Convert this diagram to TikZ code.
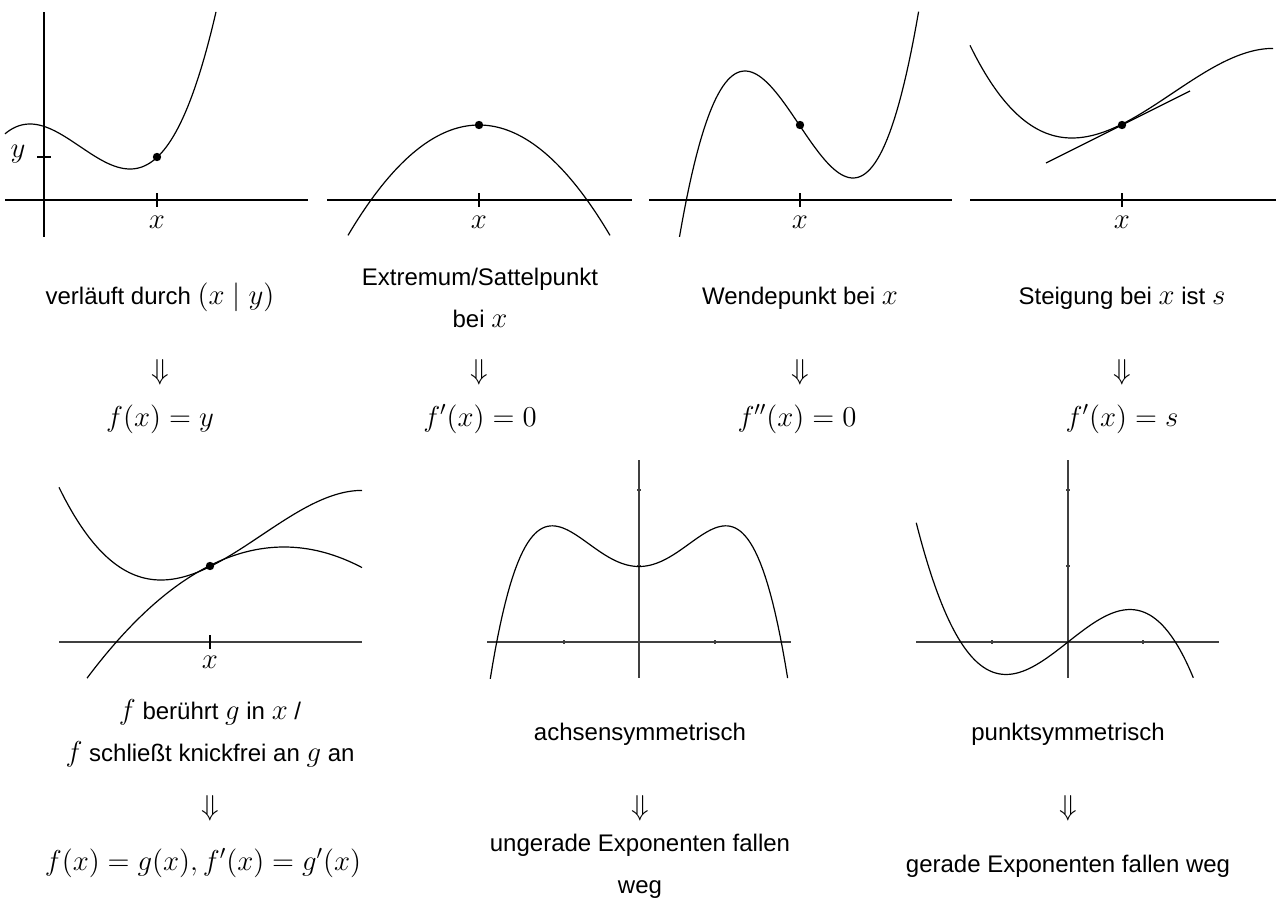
\documentclass[tikz,border=0pt]{standalone}
\usepackage[no-math]{fontspec}
\setmainfont{Liberation Sans}[Scale=0.857]
\begin{document}
\begin{tikzpicture}[x=0.5pt,y=-0.5pt,line width=0.6pt,
  declare function={
    pa(\t)=169-270*(\t*\t*\t/3+\t*\t/2);
    pc(\t)=124.5-26.75*(\t*\t*\t-3*\t);
    pd(\t)=66.2*(\t*\t*\t/3-1.005*\t*\t);
    fe(\x)=1+0.816*\x*\x-0.309*\x*\x*\x*\x;
    fo(\x)=0.786*\x-0.389*\x*\x*\x;
  },
  curve/.style={line width=0.6pt,line join=round},
  axis/.style={line width=0.6pt},
  gaxis/.style={line width=0.8pt,draw=black!75},
  lbl/.style={font=\fontsize{14}{21}\selectfont,align=center,inner sep=0pt,anchor=base},
  mlbl/.style={font=\fontsize{14}{21}\selectfont,inner sep=0pt},
  dotmark/.style={circle,fill=black,inner sep=0pt,minimum size=4.2pt},
]
\useasboundingbox (0,0) rectangle (1276,916);

% ---------- panel 1
\draw[axis] (5,200) -- (308,200);
\draw[axis] (44,12) -- (44,237);
\draw[axis] (157,193) -- (157,207);
\draw[axis] (37,157) -- (51,157);
\node[mlbl] (p1x) at (157,222) {$x$};
\node[mlbl] (p1y) at (18,154) {$y$};
\draw[curve] plot[domain=5:216,samples=90,variable=\u] ({\u},{pa((\u-130)/100)});
\node[dotmark] (p1d) at (157,157) {};

% ---------- panel 2
\draw[axis] (327,200) -- (632,200);
\draw[axis] (479,193) -- (479,207);
\node[mlbl] (p2x) at (479,222) {$x$};
\draw[curve] plot[domain=348:610,samples=80,variable=\u] ({\u},{125+64.3*((\u-479)/100)*((\u-479)/100)});
\node[dotmark] (p2d) at (479,125) {};

% ---------- panel 3
\draw[axis] (649,200) -- (952,200);
\draw[axis] (800,193) -- (800,207);
\node[mlbl] (p3x) at (800,222) {$x$};
\draw[curve] plot[domain=679.5:918.6,samples=100,variable=\u] ({\u},{pc((\u-799)/54)});
\node[dotmark] (p3d) at (800,125) {};

% ---------- panel 4
\draw[axis] (970,200) -- (1276,200);
\draw[axis] (1122,193) -- (1122,207);
\node[mlbl] (p4x) at (1122,222) {$x$};
\draw[curve] plot[domain=970:1273,samples=100,variable=\u] ({\u},{138+pd((\u-1072)/100)});
\draw[curve] (1046,163) -- (1190,91);
\node[dotmark] (p4d) at (1122,125) {};

% ---------- labels row 1
\node[lbl] (t1) at (160,304) {verläuft durch $(x\mid y)$};
\node[lbl] (t2) at (480,327) {Extremum/Sattelpunkt\\bei $x$};
\node[lbl] (t3) at (800,304) {Wendepunkt bei $x$};
\node[lbl] (t4) at (1122,304) {Steigung bei $x$ ist $s$};
\node[mlbl] (a1) at (160,372) {$\Downarrow$};
\node[mlbl] (a2) at (479,372) {$\Downarrow$};
\node[mlbl] (a3) at (800,372) {$\Downarrow$};
\node[mlbl] (a4) at (1122,372) {$\Downarrow$};
\node[lbl] (e1) at (160,426) {$f(x)=y$};
\node[lbl] (e2) at (480,426) {$f'(x)=0$};
\node[lbl] (e3) at (797,426) {$f''(x)=0$};
\node[lbl] (e4) at (1122,426) {$f'(x)=s$};

% ---------- panel 5
\draw[gaxis] (59,642) -- (362,642);
\draw[axis] (210,635) -- (210,649);
\node[mlbl] (p5x) at (210,662) {$x$};
\draw[curve] plot[domain=59:362,samples=100,variable=\u] ({\u},{580+pd((\u-161)/100)});
\draw[curve] plot[domain=87:362,samples=80,variable=\u] ({\u},{547+33.8*((\u-284)/100)*((\u-284)/100)});
\node[dotmark] (p5d) at (210,566) {};

% ---------- panel 6
\draw[gaxis] (487,642) -- (791,642);
\draw[gaxis] (639,460) -- (639,678);
\foreach \k in {564,715} \draw[gaxis] (\k,640) -- (\k,644);
\foreach \k in {490,566} \draw[gaxis] (637,\k) -- (641,\k);
\draw[curve] plot[domain=-1.97:1.97,samples=120,variable=\x] ({639+75.5*\x},{642-75.5*fe(\x)});

% ---------- panel 7
\draw[gaxis] (916,642) -- (1219,642);
\draw[gaxis] (1068,460) -- (1068,678);
\foreach \k in {992,1143} \draw[gaxis] (\k,640) -- (\k,644);
\foreach \k in {490,566} \draw[gaxis] (1066,\k) -- (1070,\k);
\draw[curve] plot[domain=-2.01:1.66,samples=120,variable=\x] ({1068+75.5*\x},{642-75.5*fo(\x)});

% ---------- labels row 2
\node[lbl] (t5) at (210,761) {$f$ berührt $g$ in $x$ /\\$f$ schließt knickfrei an $g$ an};
\node[lbl] (t6) at (640,740) {achsensymmetrisch};
\node[lbl] (t7) at (1068,740) {punktsymmetrisch};
\node[mlbl] (a5) at (210,808) {$\Downarrow$};
\node[mlbl] (a6) at (640,808) {$\Downarrow$};
\node[mlbl] (a7) at (1068,808) {$\Downarrow$};
\node[lbl] (e5) at (203,870) {$f(x)=g(x), f'(x)=g'(x)$};
\node[lbl] (e6) at (640,893) {ungerade Exponenten fallen\\weg};
\node[lbl] (e7) at (1068,872) {gerade Exponenten fallen weg};
\end{tikzpicture}
\end{document}
